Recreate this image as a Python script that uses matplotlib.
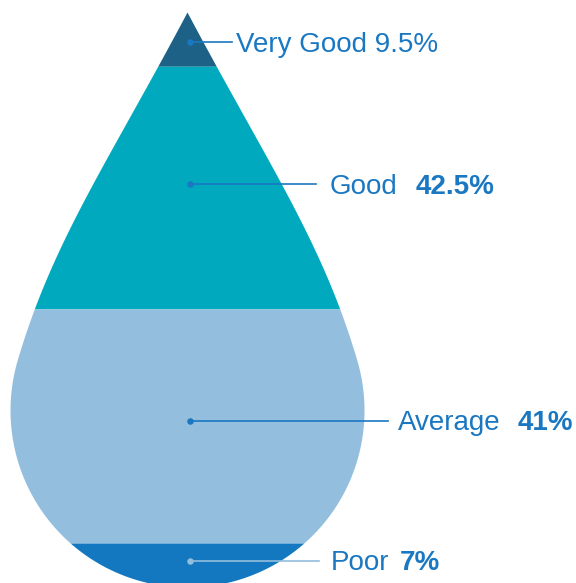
import numpy as np
import matplotlib.pyplot as plt

# ratings, shares (percent) and colours, top of the drop first
ratings = ['Very Good', 'Good', 'Average', 'Poor']
shares = [9.5, 42.5, 41, 7]
share_text = ['9.5%', '42.5%', '41%', '7%']
band_colors = ['#1d6186', '#00a9bd', '#93bedd', '#1378bf']

TEXT_COLOR = '#1a78c2'
plt.rcParams['font.family'] = ['Liberation Sans', 'DejaVu Sans']

# drop geometry (pixel space, y downwards): curved top joining a round bottom
cx = 187.0
apex_y = 12.0
cy = 410.0
rad = 177.0
join_y = 360.0
bottom_y = min(cy + rad, 583.0)   # the drop is cut by the image edge

# upper side as a cubic bezier (half-width, y), tangent to the circle at join_y
join_w = np.sqrt(rad**2 - (cy - join_y)**2)
join_slope = (cy - join_y) / join_w
p0 = np.array([0.0, apex_y])
p1 = np.array([0.53 * 150, apex_y + 150])
p2 = np.array([join_w - join_slope * 120, join_y - 120])
p3 = np.array([join_w, join_y])
t = np.linspace(0, 1, 400)[:, None]
bez = ((1 - t)**3 * p0 + 3 * (1 - t)**2 * t * p1
       + 3 * (1 - t) * t**2 * p2 + t**3 * p3)


def half_width(y):
    y = np.asarray(y, dtype=float)
    w_top = np.interp(y, bez[:, 1], bez[:, 0])
    w_circ = np.sqrt(np.clip(rad**2 - (y - cy)**2, 0, None))
    return np.where(y < join_y, w_top, w_circ)


fig = plt.figure(figsize=(5.76, 5.83), dpi=100)
ax = fig.add_axes([0, 0, 1, 1])
ax.set_xlim(0, 576)
ax.set_ylim(583, 0)
ax.axis('off')

# band limits from the shares
total = sum(shares)
edges = apex_y + (bottom_y - apex_y) * np.concatenate([[0], np.cumsum(shares)]) / total

for i, col in enumerate(band_colors):
    ys = np.linspace(edges[i], edges[i + 1], 300)
    w = half_width(ys)
    ax.fill_betweenx(ys, cx - w, cx + w, color=col, lw=0, zorder=1)

# leader lines and labels
label_y = [42, 184, 421, 561]
line_end = [232, 316, 388, 319]
name_x = [236, 330, 398, 331]
value_x = [None, 416, 518, 400]
dot_colors = [TEXT_COLOR, TEXT_COLOR, TEXT_COLOR, '#93bedd']
FS = 20

for i, name in enumerate(ratings):
    y = label_y[i]
    ax.plot([cx + 3, line_end[i]], [y, y], color=dot_colors[i], lw=1.2, zorder=3)
    ax.scatter([cx + 3], [y], s=22, color=dot_colors[i], zorder=4, lw=0)
    if value_x[i] is None:
        ax.text(name_x[i], y + 9.5, f'{name} {share_text[i]}', color=TEXT_COLOR,
                fontsize=FS, va='baseline', ha='left')
    else:
        ax.text(name_x[i], y + 9.5, name, color=TEXT_COLOR,
                fontsize=FS, va='baseline', ha='left')
        ax.text(value_x[i], y + 9.5, share_text[i], color=TEXT_COLOR,
                fontsize=FS, fontweight='bold', va='baseline', ha='left')

fig.savefig('out.png', dpi=100)
